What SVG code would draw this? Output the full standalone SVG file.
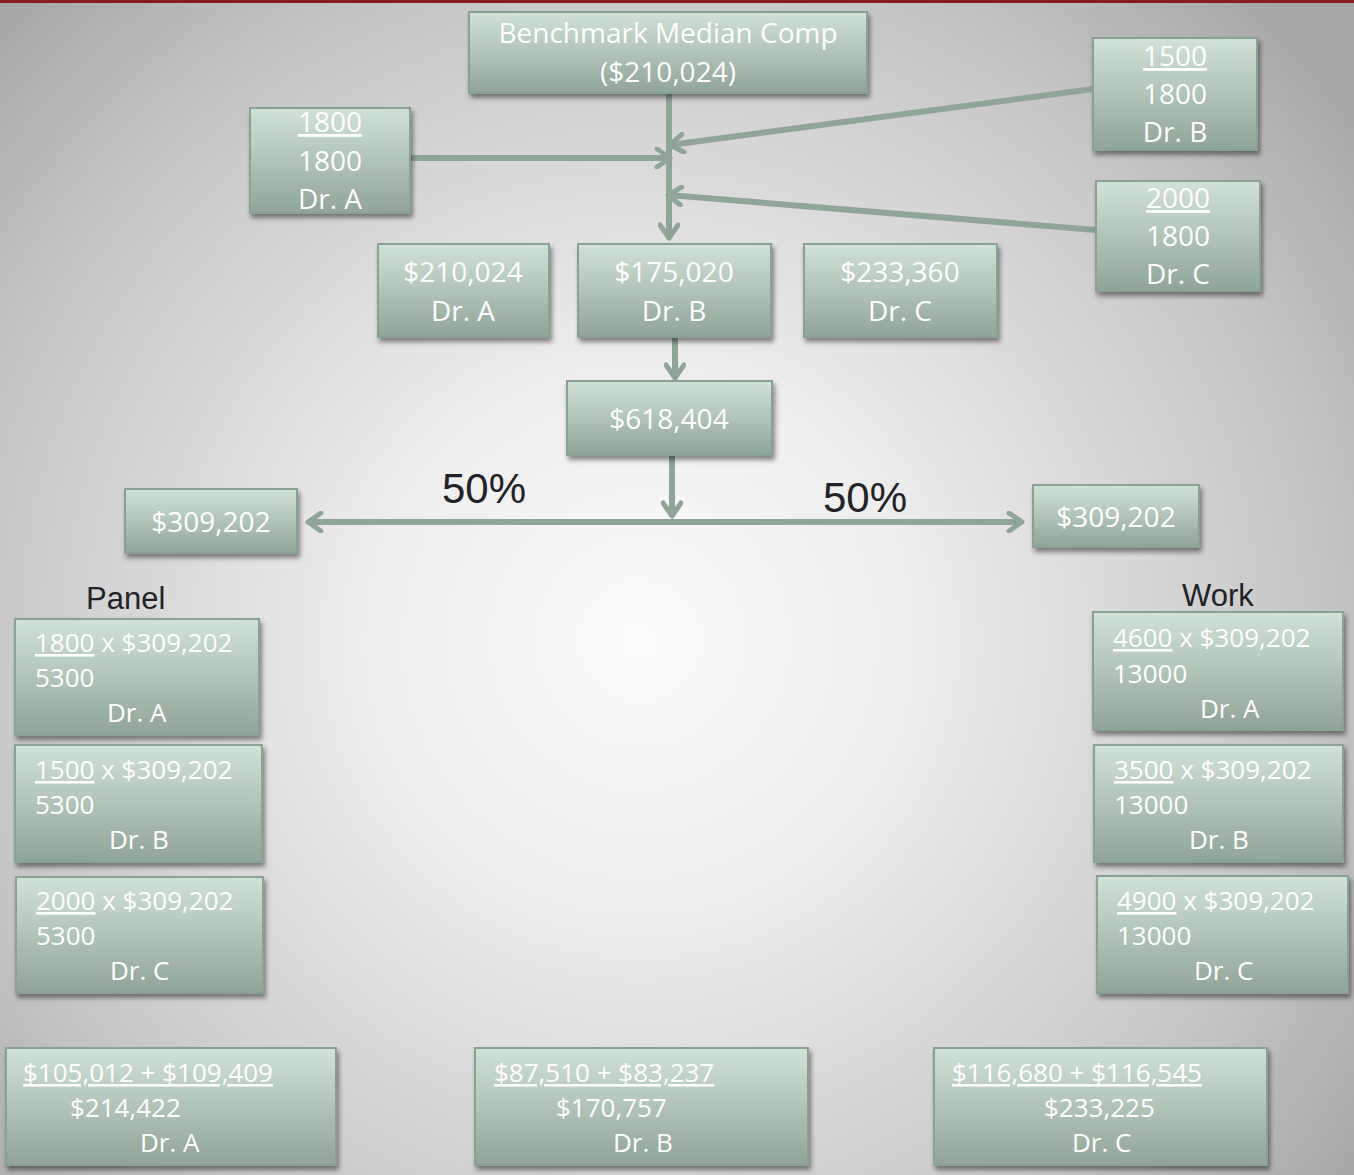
<svg xmlns="http://www.w3.org/2000/svg" width="1354" height="1175" viewBox="0 0 1354 1175">
<defs>
<radialGradient id="bg" cx="640" cy="640" r="900" gradientUnits="userSpaceOnUse">
<stop offset="0" stop-color="#fbfbfb"/>
<stop offset="0.3" stop-color="#eeeeee"/>
<stop offset="0.75" stop-color="#c6c6c6"/>
<stop offset="1" stop-color="#a6a6a6"/>
</radialGradient>
<linearGradient id="box" x1="0" y1="0" x2="0" y2="1">
<stop offset="0" stop-color="#d1e2d7"/>
<stop offset="0.45" stop-color="#b3c7ba"/>
<stop offset="1" stop-color="#8fa597"/>
</linearGradient>
<filter id="sh" x="-10%" y="-10%" width="130%" height="140%">
<feDropShadow dx="2" dy="4" stdDeviation="2.5" flood-color="#000" flood-opacity="0.45"/>
</filter>
<marker id="ah" viewBox="0 0 22 22" refX="18" refY="11" markerWidth="22" markerHeight="22" markerUnits="userSpaceOnUse" orient="auto-start-reverse">
<path d="M5,2 L18,11 L5,20" fill="none" stroke="#8fa597" stroke-width="5" stroke-linecap="round" stroke-linejoin="round"/>
</marker>
</defs>
<style>
.b{fill:url(#box);stroke:#8aa294;stroke-width:2;filter:url(#sh)}
.t{font-family:"Open Sans","Liberation Sans",sans-serif;font-size:28px;fill:#ffffff}
.s{font-size:26px}
.c{text-anchor:middle}
.u{text-decoration:underline}
.k{font-family:"Liberation Sans",Arial,sans-serif;fill:#222228}
.ln{fill:none;stroke:#8fa597;stroke-width:6}
</style>
<rect width="1354" height="1175" fill="url(#bg)"/>
<rect width="1354" height="3" fill="#8c1c1c"/>

<g id="connectors">
<line class="ln" x1="669" y1="94" x2="669" y2="238" marker-end="url(#ah)"/>
<line class="ln" x1="411" y1="158" x2="670" y2="158" marker-end="url(#ah)"/>
<line class="ln" x1="1093" y1="89" x2="670" y2="145" marker-end="url(#ah)"/>
<line class="ln" x1="1096" y1="230" x2="668" y2="195" marker-end="url(#ah)"/>
<line class="ln" x1="675" y1="338" x2="675" y2="378" marker-end="url(#ah)"/>
<line class="ln" x1="672" y1="456" x2="672" y2="516" marker-end="url(#ah)"/>
<line class="ln" x1="308" y1="522" x2="1022" y2="522" marker-start="url(#ah)" marker-end="url(#ah)"/>
</g>

<g id="benchmark"><rect class="b" x="469" y="12" width="398" height="81"/>
<text class="t c" x="668" y="43">Benchmark Median Comp</text>
<text class="t c" x="668" y="82">($210,024)</text></g>

<g id="ratioA"><rect class="b" x="250" y="108" width="160" height="105"/>
<text class="t c u" x="330" y="132">1800</text>
<text class="t c" x="330" y="171">1800</text>
<text class="t c" x="330" y="209">Dr. A</text></g>

<g id="ratioB"><rect class="b" x="1093" y="38" width="164" height="112"/>
<text class="t c u" x="1175" y="66">1500</text>
<text class="t c" x="1175" y="104">1800</text>
<text class="t c" x="1175" y="142">Dr. B</text></g>

<g id="ratioC"><rect class="b" x="1096" y="181" width="164" height="110"/>
<text class="t c u" x="1178" y="208">2000</text>
<text class="t c" x="1178" y="246">1800</text>
<text class="t c" x="1178" y="284">Dr. C</text></g>

<g id="compA"><rect class="b" x="378" y="244" width="171" height="93"/>
<text class="t c" x="463" y="282">$210,024</text>
<text class="t c" x="463" y="321">Dr. A</text></g>

<g id="compB"><rect class="b" x="578" y="244" width="193" height="93"/>
<text class="t c" x="674" y="282">$175,020</text>
<text class="t c" x="674" y="321">Dr. B</text></g>

<g id="compC"><rect class="b" x="804" y="244" width="193" height="93"/>
<text class="t c" x="900" y="282">$233,360</text>
<text class="t c" x="900" y="321">Dr. C</text></g>

<g id="total"><rect class="b" x="567" y="381" width="205" height="74"/>
<text class="t c" x="669" y="429">$618,404</text></g>

<text class="k" x="442" y="503" font-size="42">50%</text>
<text class="k" x="823" y="512" font-size="42">50%</text>

<g id="halfLeft"><rect class="b" x="125" y="489" width="172" height="64"/>
<text class="t c" x="211" y="532">$309,202</text></g>

<g id="halfRight"><rect class="b" x="1033" y="485" width="166" height="62"/>
<text class="t c" x="1116" y="527">$309,202</text></g>

<text class="k" x="86" y="609" font-size="31">Panel</text>
<text class="k" x="1182" y="606" font-size="31">Work</text>

<g id="panelA"><rect class="b" x="15" y="619" width="244" height="116"/>
<text class="t s" x="35" y="652"><tspan class="u">1800</tspan> x $309,202</text>
<text class="t s" x="35" y="687">5300</text>
<text class="t s" x="107" y="722">Dr. A</text></g>

<g id="panelB"><rect class="b" x="15" y="745" width="247" height="117"/>
<text class="t s" x="35" y="779"><tspan class="u">1500</tspan> x $309,202</text>
<text class="t s" x="35" y="814">5300</text>
<text class="t s" x="109" y="849">Dr. B</text></g>

<g id="panelC"><rect class="b" x="16" y="877" width="247" height="116"/>
<text class="t s" x="36" y="910"><tspan class="u">2000</tspan> x $309,202</text>
<text class="t s" x="36" y="945">5300</text>
<text class="t s" x="110" y="980">Dr. C</text></g>

<g id="workA"><rect class="b" x="1093" y="612" width="250" height="118"/>
<text class="t s" x="1113" y="647"><tspan class="u">4600</tspan> x $309,202</text>
<text class="t s" x="1113" y="683">13000</text>
<text class="t s" x="1200" y="718">Dr. A</text></g>

<g id="workB"><rect class="b" x="1094" y="745" width="249" height="117"/>
<text class="t s" x="1114" y="779"><tspan class="u">3500</tspan> x $309,202</text>
<text class="t s" x="1114" y="814">13000</text>
<text class="t s" x="1189" y="849">Dr. B</text></g>

<g id="workC"><rect class="b" x="1097" y="876" width="251" height="117"/>
<text class="t s" x="1117" y="910"><tspan class="u">4900</tspan> x $309,202</text>
<text class="t s" x="1117" y="945">13000</text>
<text class="t s" x="1194" y="980">Dr. C</text></g>

<g id="finalA"><rect class="b" x="6" y="1048" width="330" height="117"/>
<text class="t s u" x="23" y="1082">$105,012 + $109,409</text>
<text class="t s" x="70" y="1117">$214,422</text>
<text class="t s" x="140" y="1152">Dr. A</text></g>

<g id="finalB"><rect class="b" x="475" y="1048" width="333" height="117"/>
<text class="t s u" x="494" y="1082">$87,510 + $83,237</text>
<text class="t s" x="556" y="1117">$170,757</text>
<text class="t s" x="613" y="1152">Dr. B</text></g>

<g id="finalC"><rect class="b" x="934" y="1048" width="333" height="117"/>
<text class="t s u" x="952" y="1082">$116,680 + $116,545</text>
<text class="t s" x="1044" y="1117">$233,225</text>
<text class="t s" x="1072" y="1152">Dr. C</text></g>
</svg>
